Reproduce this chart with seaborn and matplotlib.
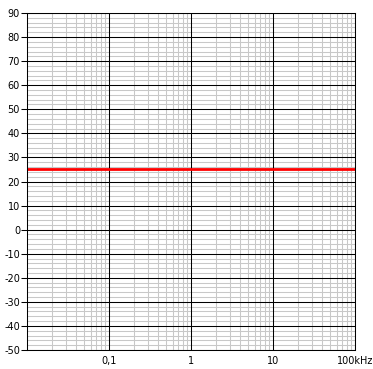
import matplotlib
matplotlib.use("Agg")
import matplotlib.pyplot as plt
import seaborn as sns
import numpy as np
import pandas as pd
from matplotlib.ticker import FixedLocator, FixedFormatter, NullFormatter

freq_khz = [0.01, 100]
level = [25, 25]
x_major = [0.1, 1, 10, 100]
x_labels = ["0,1", "1", "10", "100kHz"]
y_major = list(range(-50, 91, 10))
y_minor = list(range(-50, 91, 2))

sns.set_style("white")
plt.rcParams['font.family'] = ['DejaVu Sans']
plt.rcParams['axes.unicode_minus'] = False

fig = plt.figure(figsize=(3.73, 3.69), dpi=100)
ax = fig.add_axes([27/373, 19/369, 328/373, 337/369])

df = pd.DataFrame({"f": freq_khz, "v": level})
ax.set_xscale("log")
xlo, xhi = 0.01, 100
ylo, yhi = -50, 90
ax.set_xlim(xlo, xhi)
ax.set_ylim(ylo, yhi)

xminor = [m * 10.0**e for e in range(-2, 2) for m in range(2, 10)]
ax.xaxis.set_minor_locator(FixedLocator(xminor))
ax.xaxis.set_minor_formatter(NullFormatter())
ax.yaxis.set_minor_locator(FixedLocator(y_minor))
ax.xaxis.set_major_locator(FixedLocator(x_major))
ax.xaxis.set_major_formatter(FixedFormatter(x_labels))
ax.set_yticks(y_major)
ax.grid(False)

lw = 0.75
ax.vlines(xminor, ylo, yhi, colors="#c8c8c8", linewidth=lw, zorder=1)
ax.hlines(y_minor, xlo, xhi, colors="#c8c8c8", linewidth=lw, zorder=1)
ax.vlines(x_major, ylo, yhi, colors="black", linewidth=lw, zorder=1.5)
ax.hlines(y_major, xlo, xhi, colors="black", linewidth=lw, zorder=1.5)

sns.lineplot(data=df, x="f", y="v", ax=ax, color="#ff0000", linewidth=2.0, zorder=3)
ax.set_xlim(xlo, xhi)
ax.set_ylim(ylo, yhi)
ax.set_xlabel("")
ax.set_ylabel("")

ax.tick_params(axis="y", which="major", length=4, width=lw, color="black",
               labelsize=7, pad=1, left=True, labelcolor="black")
ax.tick_params(axis="x", which="major", length=0, labelsize=7, pad=4,
               labelcolor="black")
ax.tick_params(which="minor", length=0)
for s in ax.spines.values():
    s.set_color("black")
    s.set_linewidth(lw)
    s.set_zorder(4)

fig.savefig("out.png", dpi=100)
